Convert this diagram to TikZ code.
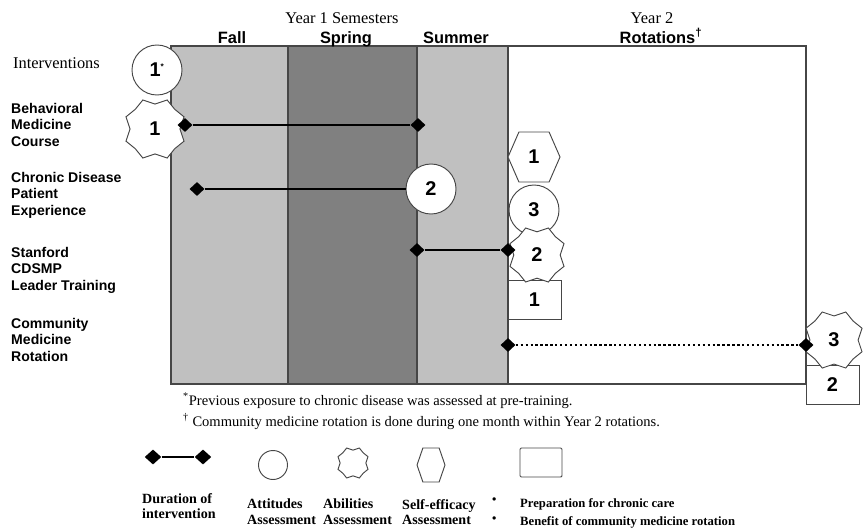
\documentclass[tikz,border=0pt]{standalone}
\usepackage{fontspec}
\setmainfont{Liberation Serif}
\setsansfont{Liberation Sans}
\usetikzlibrary{shapes.geometric}

\definecolor{lightcol}{RGB}{192,192,192}
\definecolor{darkcol}{RGB}{128,128,128}
\definecolor{edgecol}{RGB}{70,70,70}

\tikzset{
	hdr/.style={font=\sffamily\bfseries\fontsize{14}{16}\selectfont, anchor=base, inner sep=0},
	yearlab/.style={font=\fontsize{14}{16}\selectfont, anchor=base, inner sep=0},
	rowlab/.style={font=\sffamily\bfseries\fontsize{12}{14}\selectfont, align=left, anchor=north west, inner sep=0},
	num/.style={font=\sffamily\bfseries\fontsize{17}{17}\selectfont, inner sep=0},
	outline/.style={draw=edgecol, line width=0.8pt},
	attitude/.style={circle, outline, fill=white, minimum size=1.5cm, num},
	prepbox/.style={rectangle, outline, fill=white, minimum width=1.59cm, minimum height=1.17cm, num},
	tip/.style={diamond, fill=black, inner sep=0, minimum width=0.45cm, minimum height=0.42cm},
	dur/.style={line width=2pt},
	note/.style={font=\fontsize{12.4}{14}\selectfont, anchor=base west, inner sep=0},
	legtext/.style={font=\bfseries\fontsize{12}{13.5}\selectfont, align=left, anchor=north west, inner sep=0}
}

% abilities mark: name, centre, half size, label
\newcommand{\abilities}[4]{%
	\draw[outline, fill=white, shift={#2}, scale=#3]
		(-0.42,1) -- (0,0.86) -- (0.42,1) -- (0.68,0.68) -- (1,0.42) -- (0.86,0) -- (1,-0.42) -- (0.68,-0.68)
		-- (0.42,-1) -- (0,-0.86) -- (-0.42,-1) -- (-0.68,-0.68) -- (-1,-0.42) -- (-0.86,0) -- (-1,0.42) -- (-0.68,0.68) -- cycle;
	\node[num] (#1) at #2 {#4};}
% self-efficacy mark: name, centre, half width, half height, label
\newcommand{\selfeff}[5]{%
	\draw[outline, fill=white, shift={#2}, xscale=#3, yscale=#4]
		(-0.58,1) -- (0.58,1) -- (1,0) -- (0.58,-1) -- (-0.58,-1) -- (-1,0) -- cycle;
	\node[num] (#1) at #2 {#5};}

\begin{document}
\begin{tikzpicture}[x=0.03cm, y=-0.03cm]
	\useasboundingbox (0,0) rectangle (867,530);

	% semesters
	\fill[lightcol] (171,46) rectangle (288,384);
	\fill[darkcol] (288,46) rectangle (417,384);
	\fill[lightcol] (417,46) rectangle (508,384);
	\draw[edgecol, line width=1pt] (171,46) rectangle (806,384);
	\foreach \x in {288,417,508}
		\draw[edgecol, line width=1pt] (\x,46) -- (\x,384);

	\node[yearlab] (yr1) at (342,23) {Year 1 Semesters};
	\node[hdr] (fall) at (232,43) {Fall};
	\node[hdr] (spring) at (346,43) {Spring};
	\node[hdr] (summer) at (456,43) {Summer};
	\node[yearlab] (yr2) at (652,23) {Year 2};
	\node[hdr] (rot) at (661,43) {Rotations\textsuperscript{\dag}};

	% rows
	\node[yearlab, anchor=base west] (interv) at (13,68) {Interventions};
	\node[rowlab] (behav) at (11,103) {Behavioral\\Medicine\\Course};
	\node[rowlab] (chronic) at (11,172) {Chronic Disease\\Patient\\Experience};
	\node[rowlab] (stanford) at (11,247) {Stanford\\CDSMP\\Leader Training};
	\node[rowlab] (commun) at (11,318) {Community\\Medicine\\Rotation};

	% assessments
	\node[prepbox] (p1) at (534.5,299.5) {1};
	\node[prepbox] (p2) at (832.5,384.5) {2};
	\node[attitude] (a1) at (157,70) {1\textsuperscript{\scriptsize*}};
	\node[attitude] (a2) at (431,189) {2};
	\node[attitude] (a3) at (534,210) {3};
	\selfeff{s1}{(534,157)}{26}{25}{1}
	\abilities{b1}{(155,129)}{29}{1}
	\abilities{b2}{(537,255)}{27}{2}
	\abilities{b3}{(834,340)}{28}{3}

	% durations
	\node[tip] (d1a) at (185,125) {};
	\node[tip] (d1b) at (418,125) {};
	\node[tip] (d2a) at (197,189) {};
	\node[tip] (d3a) at (417,250) {};
	\node[tip] (d3b) at (508,250) {};
	\node[tip] (d4a) at (508,345) {};
	\node[tip] (d4b) at (806,345) {};
	\draw[dur] (d1a) -- (d1b);
	\draw[dur] (d2a) -- (a2);
	\draw[dur] (d3a) -- (d3b);
	\draw[dur, dash pattern=on 2pt off 2.2pt] (d4a) -- (d4b);

	\node[note] (fn1) at (183,405) {\textsuperscript{*}Previous exposure to chronic disease was assessed at pre-training.};
	\node[note] (fn2) at (183,426) {\textsuperscript{\dag} Community medicine rotation is done during one month within Year 2 rotations.};

	% legend
	\node[tip, minimum width=0.5cm, minimum height=0.45cm] (ld1) at (153,457) {};
	\node[tip, minimum width=0.5cm, minimum height=0.45cm] (ld2) at (203,457) {};
	\draw[dur] (ld1) -- (ld2);
	\node[circle, outline, minimum size=0.87cm, inner sep=0] (la) at (273,465) {};
	\abilities{lb}{(353,463)}{15}{}
	\selfeff{ls}{(431,465)}{14}{17}{}
	\node[rectangle, rounded corners=1pt, outline, minimum width=1.26cm, minimum height=0.87cm] (lp) at (541,462.5) {};

	\node[legtext] (ldtext) at (142,493) {Duration of\\intervention};
	\node[legtext] (latext) at (247,499) {Attitudes\\Assessment};
	\node[legtext] (lbtext) at (323,499) {Abilities\\Assessment};
	\node[legtext] (lstext) at (402,499) {Self-efficacy\\Assessment};
	\node[legtext, font=\bfseries\fontsize{10.5}{15.5}\selectfont] (lbul) at (492,498) {•\\•};
	\node[legtext, font=\bfseries\fontsize{10.8}{15.5}\selectfont] (lptext) at (520,498) {Preparation for chronic care\\Benefit of community medicine rotation};
\end{tikzpicture}
\end{document}
